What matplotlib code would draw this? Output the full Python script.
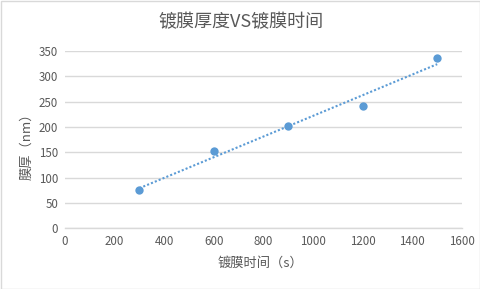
import numpy as np
import matplotlib
matplotlib.use("Agg")
import matplotlib.pyplot as plt
from matplotlib.patches import Rectangle

plt.rcParams['font.family'] = ['Noto Sans CJK SC', 'DejaVu Sans']

time_s = [300, 600, 900, 1200, 1500]
thickness_nm = [76, 152, 201, 242, 337]
x_ticks = [0, 200, 400, 600, 800, 1000, 1200, 1400, 1600]
y_ticks = [0, 50, 100, 150, 200, 250, 300, 350]
title = "镀膜厚度VS镀膜时间"
xlabel = "镀膜时间（s）"
ylabel = "膜厚（nm）"

blue = "#5b9bd5"
grid = "#d9d9d9"
txt = "#595959"

fig = plt.figure(figsize=(4.81, 2.89), dpi=100)
ax = fig.add_axes([65/481, 1-228.3/289, (462-65)/481, (228.3-51)/289])

ax.scatter(time_s, thickness_nm, s=36, color=blue, zorder=3, linewidths=0)
k, b = np.polyfit(time_s, thickness_nm, 1)
xs = np.array([min(time_s), max(time_s)])
ax.plot(xs, k*xs + b, color=blue, lw=1.5, ls=(0, (1, 1)), zorder=2)

ax.set_xlim(0, 1600)
ax.set_ylim(0, 350)
ax.set_xticks(x_ticks)
ax.set_yticks(y_ticks)
ax.tick_params(length=0, labelsize=8.3, labelcolor=txt, pad=5)
ax.yaxis.grid(True, color=grid, lw=1)
ax.set_axisbelow(True)
for s in ['top', 'right', 'left']:
    ax.spines[s].set_visible(False)
ax.spines['bottom'].set_color(grid)
ax.spines['bottom'].set_linewidth(1)

fig.text(0.5, 1-22/289, title, ha='center', va='center', fontsize=13, color=txt)
fig.text(260/481, 1-263/289, xlabel, ha='center', va='center', fontsize=9.5, color=txt)
fig.text(27/481, 1-143/289, ylabel, ha='center', va='center', rotation=90, fontsize=9.5, color=txt)

fig.patches.append(Rectangle((0.5/481, 0.5/289), 1-1/481, 1-1/289, transform=fig.transFigure,
                             fill=False, edgecolor=grid, lw=1))

fig.savefig("out.png", dpi=100, facecolor="white")
